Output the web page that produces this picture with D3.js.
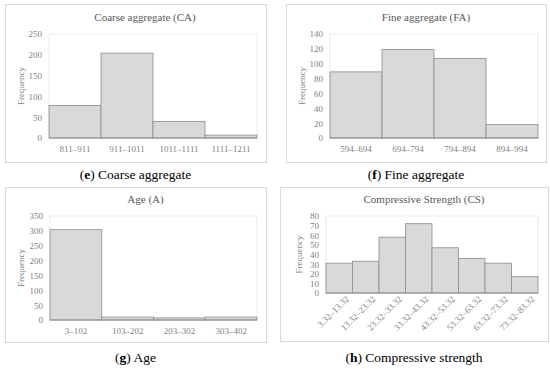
<!DOCTYPE html>
<html>
<head>
<meta charset="utf-8">
<script src="https://cdn.jsdelivr.net/npm/d3@7"></script>
<style>
  body { margin: 0; background: #fff; }
  text { font-family: "Liberation Serif", "DejaVu Serif", serif; }
</style>
</head>
<body>
<div id="chart"></div>
<script>
// data
var caBins = ["811–911", "911–1011", "1011–1111", "1111–1211"];
var caFreq = [78, 204, 40, 7];
var caTicks = [0, 50, 100, 150, 200, 250];

var faBins = ["594–694", "694–794", "794–894", "894–994"];
var faFreq = [89, 119, 107, 18];
var faTicks = [0, 20, 40, 60, 80, 100, 120, 140];

var ageBins = ["3–102", "103–202", "203–302", "303–402"];
var ageFreq = [304, 10, 7, 10];
var ageTicks = [0, 50, 100, 150, 200, 250, 300, 350];

var csBins = ["3.32–13.32", "13.32–23.32", "23.32–33.32", "33.32–43.32",
              "43.32–53.32", "53.32–63.32", "63.32–73.32", "73.32–83.32"];
var csFreq = [31, 33, 58, 72, 47, 36, 31, 17];
var csTicks = [0, 10, 20, 30, 40, 50, 60, 70, 80];

var width = 550,
    height = 369;

var svg = d3.select("#chart")
    .append("svg")
    .attr("width", width)
    .attr("height", height)

function panel(opt) {
    var g = svg.append("g")

    // outer frame
    g.append("rect")
        .attr("x", opt.box[0] + 0.5)
        .attr("y", opt.box[1] + 0.5)
        .attr("width", opt.box[2])
        .attr("height", opt.box[3])
        .attr("fill", "#fff")
        .attr("stroke", "#d9d9d9")

    var x = d3.scaleBand().domain(opt.bins).range([opt.plot[0], opt.plot[1]])
    var y = d3.scaleLinear().domain([0, d3.max(opt.ticks)]).range([opt.plot[3], opt.plot[2]])

    // plot area border
    g.append("rect")
        .attr("x", opt.plot[0])
        .attr("y", opt.plot[2])
        .attr("width", opt.plot[1] - opt.plot[0])
        .attr("height", opt.plot[3] - opt.plot[2])
        .attr("fill", "none")
        .attr("stroke", "#e6e6e6")
        .attr("stroke-width", 0.8)

    g.selectAll(".bar")
        .data(opt.freq)
        .enter().append("rect")
        .attr("class", "bar")
        .attr("x", function(d, i) { return x(opt.bins[i]) })
        .attr("y", function(d) { return y(d) })
        .attr("width", x.bandwidth())
        .attr("height", function(d) { return y(0) - y(d) })
        .attr("fill", "#d9d9d9")
        .attr("stroke", "#8c8c8c")
        .attr("stroke-width", 0.8)

    // baseline
    g.append("line")
        .attr("x1", opt.plot[0]).attr("x2", opt.plot[1])
        .attr("y1", y(0)).attr("y2", y(0))
        .attr("stroke", "#8c8c8c")
        .attr("stroke-width", 0.8)

    var yAxis = g.append("g")
        .attr("transform", "translate(" + (opt.plot[0] - 7) + ",0)")
        .call(d3.axisLeft(y).tickValues(opt.ticks).tickSize(0).tickPadding(0))
    yAxis.select(".domain").remove()
    yAxis.selectAll("text")
        .attr("fill", "#7f7f7f")
        .style("font-size", "9px")

    var xAxis = g.append("g")
        .attr("transform", "translate(0," + y(0) + ")")
        .call(d3.axisBottom(x).tickSize(0).tickPadding(8))
    xAxis.select(".domain").remove()
    xAxis.selectAll("text")
        .attr("fill", "#7f7f7f")
        .style("font-size", "9px")

    if (opt.rotate) {
        xAxis.selectAll("text")
            .attr("text-anchor", "end")
            .attr("dy", "0.35em")
            .attr("transform", "translate(4,0) rotate(-45)")
            .attr("y", 6)
            .attr("x", 0)
    }

    g.append("text")
        .attr("transform", "translate(" + opt.freqX + "," + ((opt.plot[2] + opt.plot[3]) / 2) + ") rotate(-90)")
        .attr("text-anchor", "middle")
        .attr("fill", "#7f7f7f")
        .style("font-size", "9px")
        .text("Frequency")

    var cx = opt.box[0] + opt.box[2] / 2

    g.append("text")
        .attr("x", (opt.plot[0] + opt.plot[1]) / 2 - 8)
        .attr("y", opt.titleY)
        .attr("text-anchor", "middle")
        .attr("fill", "#595959")
        .style("font-size", "11px")
        .text(opt.title)

    var cap = svg.append("text")
        .attr("x", cx)
        .attr("y", opt.capY)
        .attr("text-anchor", "middle")
        .attr("fill", "#000")
        .style("font-size", "13.5px")
    cap.append("tspan").text("(")
    cap.append("tspan").style("font-weight", "bold").text(opt.letter)
    cap.append("tspan").text(") " + opt.caption)
}

panel({
    bins: caBins, freq: caFreq, ticks: caTicks,
    box: [5, 4, 261, 158], plot: [49, 257, 34, 138],
    title: "Coarse aggregate (CA)", titleY: 21, freqX: 24,
    letter: "e", caption: "Coarse aggregate", capY: 179
})

panel({
    bins: faBins, freq: faFreq, ticks: faTicks,
    box: [286, 4, 260, 158], plot: [330, 538, 34, 138],
    title: "Fine aggregate (FA)", titleY: 21, freqX: 305,
    letter: "f", caption: "Fine aggregate", capY: 179
})

panel({
    bins: ageBins, freq: ageFreq, ticks: ageTicks,
    box: [5, 187, 261, 155], plot: [50, 257, 216, 320],
    title: "Age (A)", titleY: 203, freqX: 24,
    letter: "g", caption: "Age", capY: 362
})

panel({
    bins: csBins, freq: csFreq, ticks: csTicks,
    box: [280, 187, 268, 154], plot: [326, 538, 216, 293],
    title: "Compressive Strength (CS)", titleY: 203, freqX: 302, rotate: true,
    letter: "h", caption: "Compressive strength", capY: 362
})
</script>
</body>
</html>
